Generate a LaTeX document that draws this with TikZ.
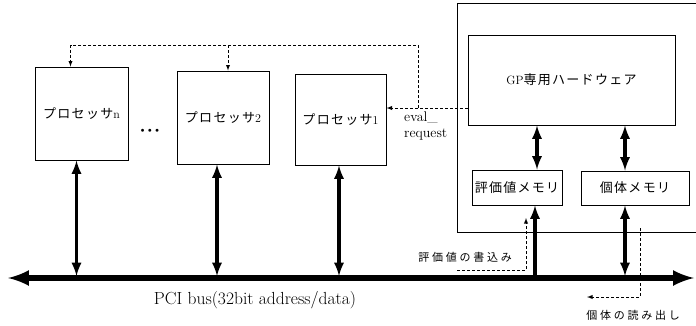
\documentclass[tikz,border=0pt]{standalone}
\usepackage{fontspec}
\newfontfamily\jp{Noto Sans CJK JP}[LetterSpace=10]
\newfontfamily\jpsp{Noto Sans CJK JP}[LetterSpace=25]
\usetikzlibrary{arrows}

\tikzset{
  box/.style={draw,line width=1pt,inner sep=0pt},
  bus/.style={line width=6pt,latex-latex},
  link/.style={line width=3.5pt,latex-latex},
  up/.style={line width=3.5pt,-latex},
  sig/.style={line width=0.9pt,dash pattern=on 3pt off 2pt,-latex}
}

\begin{document}
\begin{tikzpicture}[x=1pt,y=-1pt,font=\fontsize{13}{15}\selectfont]
        \useasboundingbox (0,0) rectangle (696,325);
        \clip (0,0) rectangle (696,325);
        % processors
        \foreach \n/\x/\y/\w/\h in {n/81.5/113.5/93/93, 2/223/117.5/92/93, 1/340.5/119.5/91/91} {
          \node[box,minimum width=\w pt,minimum height=\h pt] (p\n) at (\x,\y)
            {\jp プロセッサ{\rmfamily\fontsize{12}{12}\selectfont\n}};
        }
        \node[font=\fontsize{7}{7}\selectfont] (dots) at (150,131) {$\bullet\,\bullet\,\bullet$};
        % GP hardware
        \node[box,minimum width=243pt,minimum height=229pt] (hw) at (578.5,117.5) {};
        \node[box,minimum width=207pt,minimum height=90pt] (gp) at (571.5,80)
          {{\fontsize{12}{12}\selectfont GP}{\jp 専用ハードウェア}};
        \node[box,minimum width=90pt,minimum height=35pt] (evalmem) at (517,187.5) {\jp 評価値メモリ};
        \node[box,minimum width=108pt,minimum height=34pt] (indmem) at (635,188) {\jp 個体メモリ};
        % PCI bus
        \coordinate (busL) at (8,278);
        \coordinate (busR) at (694,278);
        \draw[bus] (busL) -- (busR);
        \node[font=\fontsize{17.5}{19}\selectfont] (buslbl) at (255,300) {PCI bus(32bit address/data)};
        \foreach \n/\dx in {n/-5, 2/-6, 1/-1.5} {
          \draw[link,shorten >=2pt] ([xshift=\dx pt]p\n.south) -- ([xshift=\dx pt]p\n.south |- busL);
        }
        \draw[link] ([xshift=20pt]evalmem.north) -- ([xshift=20pt]evalmem.north |- gp.south);
        \draw[link] ([xshift=-10pt]indmem.north) -- ([xshift=-10pt]indmem.north |- gp.south);
        \draw[up] ([xshift=18pt]evalmem.south |- busL) -- ([xshift=18pt]evalmem.south);
        \draw[link,shorten >=2pt] ([xshift=-10pt]indmem.south) -- ([xshift=-10pt]indmem.south |- busL);
        % eval_request
        \coordinate (req) at (418,108);
        \coordinate (top) at (418,45);
        \draw[sig] (gp.west |- req) -- (p1.east |- req);
        \draw[sig] (req) -- (top) -| ([xshift=-11pt]pn.north);
        \draw[sig] ([xshift=5pt]top -| p2.north) -- ([xshift=5pt]p2.north);
        \node[align=left,anchor=north west,inner sep=0pt,font=\fontsize{14}{16}\selectfont]
          (reqlbl) at (404,112) {eval\_\\request};
        % write / read
        \coordinate (wrA) at (457,270);
        \coordinate (wrB) at (526,218);
        \draw[sig] (wrA) -| (wrB);
        \node[font=\jpsp\fontsize{11}{11}\selectfont] (wrlbl) at (465,257) {評価値の書込み};
        \coordinate (rdA) at (640,228);
        \coordinate (rdB) at (587,297);
        \draw[sig] (rdA) |- (rdB);
        \node[font=\jpsp\fontsize{11}{11}\selectfont] (rdlbl) at (633,315) {個体の読み出し};
\end{tikzpicture}
\end{document}
